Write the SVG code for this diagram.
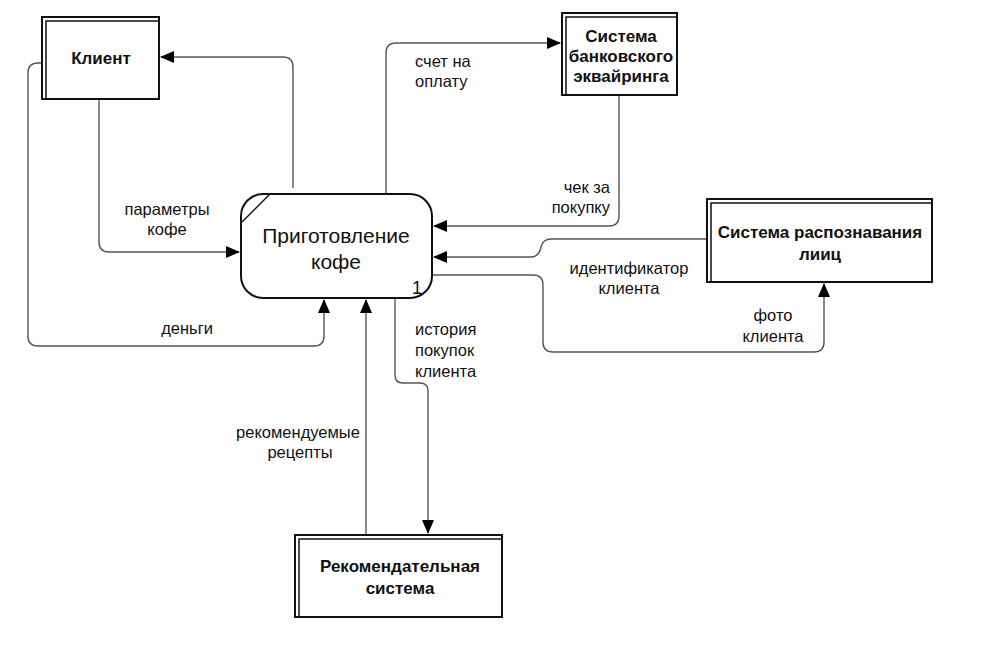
<svg xmlns="http://www.w3.org/2000/svg" width="990" height="651" viewBox="0 0 990 651">
<defs>
<marker id="arr" markerWidth="14" markerHeight="12" refX="13" refY="6" orient="auto" markerUnits="userSpaceOnUse">
<path d="M0,0 L14,6 L0,12 Z" fill="#000"/>
</marker>
<style>
.ent{fill:#fff;stroke:#111;stroke-width:2}
.inner{fill:none;stroke:#111;stroke-width:1.5}
.nt{font-family:"Liberation Sans",Arial,sans-serif;font-weight:bold;font-size:17px;fill:#111;text-anchor:middle}
.lbl{font-family:"Liberation Sans",Arial,sans-serif;font-size:16.5px;fill:#111}
.c{fill:none;stroke:#555;stroke-width:1.4;marker-end:url(#arr)}
</style>
</defs>
<rect width="990" height="651" fill="#fff"/>
<g id="connectors">
<path class="c" d="M293,188 V67 Q293,57 283,57 H161"/>
<path class="c" d="M99,99 V242 Q99,252 109,252 H239"/>
<path class="c" d="M42,63 H38 Q28,63 28,73 V336 Q28,346 38,346 H314 Q324,346 324,336 V300"/>
<path class="c" d="M386,194 V53 Q386,43 396,43 H560"/>
<path class="c" d="M619,95 V216 Q619,226 609,226 H434"/>
<path class="c" d="M707,239 H551 Q543,239 541,247 Q539,257 531,257 H434"/>
<path class="c" d="M432,275 H533 Q543,275 543,285 V342 Q543,352 553,352 H814 Q824,352 824,342 V284"/>
<path class="c" d="M395,298 V375 Q395,383 403,383 H420 Q428,383 428,391 V533"/>
<path class="c" d="M366,535 V300"/>
<text class="lbl" x="167" y="215" text-anchor="middle">параметры</text>
<text class="lbl" x="167" y="235" text-anchor="middle">кофе</text>
<text class="lbl" x="187" y="334" text-anchor="middle">деньги</text>
<text class="lbl" x="415" y="67">счет на</text>
<text class="lbl" x="415" y="87">оплату</text>
<text class="lbl" x="610" y="193" text-anchor="end">чек за</text>
<text class="lbl" x="610" y="213" text-anchor="end">покупку</text>
<text class="lbl" x="629" y="274" text-anchor="middle">идентификатор</text>
<text class="lbl" x="629" y="294" text-anchor="middle">клиента</text>
<text class="lbl" x="773" y="321" text-anchor="middle">фото</text>
<text class="lbl" x="773" y="342" text-anchor="middle">клиента</text>
<text class="lbl" x="415" y="335">история</text>
<text class="lbl" x="415" y="356">покупок</text>
<text class="lbl" x="415" y="377">клиента</text>
<text class="lbl" x="298" y="438" text-anchor="middle">рекомендуемые</text>
<text class="lbl" x="300" y="458" text-anchor="middle">рецепты</text>
</g>
<g id="client">
<rect class="ent" x="42" y="17" width="117" height="82"/>
<path class="inner" d="M46,99 V21 H159"/>
<text class="nt" x="101" y="64">Клиент</text>
</g>
<g id="process">
<rect x="241" y="194" width="191" height="104" rx="22" ry="22" fill="#fff" stroke="#111" stroke-width="2"/>
<line x1="242" y1="222" x2="270" y2="194" stroke="#111" stroke-width="1.5"/>
<text x="336" y="243" font-family="'Liberation Sans',Arial,sans-serif" font-size="21" text-anchor="middle" fill="#111">Приготовление</text>
<text x="336" y="269" font-family="'Liberation Sans',Arial,sans-serif" font-size="21" text-anchor="middle" fill="#111">кофе</text>
<text x="412" y="294" font-family="'Liberation Sans',Arial,sans-serif" font-size="18" fill="#111">1</text>
</g>
<g id="bank">
<rect class="ent" x="562" y="13" width="115" height="82"/>
<path class="inner" d="M566,95 V17 H677"/>
<text class="nt" x="621" y="42">Система</text>
<text class="nt" x="621" y="62">банковского</text>
<text class="nt" x="621" y="82">эквайринга</text>
</g>
<g id="face">
<rect class="ent" x="707" y="199" width="225" height="83"/>
<path class="inner" d="M711,282 V203 H932"/>
<text class="nt" x="820" y="238">Система распознавания</text>
<text class="nt" x="820" y="260">лииц</text>
</g>
<g id="recsys">
<rect class="ent" x="295" y="535" width="207" height="82"/>
<path class="inner" d="M299,617 V539 H502"/>
<text class="nt" x="400" y="572">Рекомендательная</text>
<text class="nt" x="400" y="594">система</text>
</g>
</svg>
